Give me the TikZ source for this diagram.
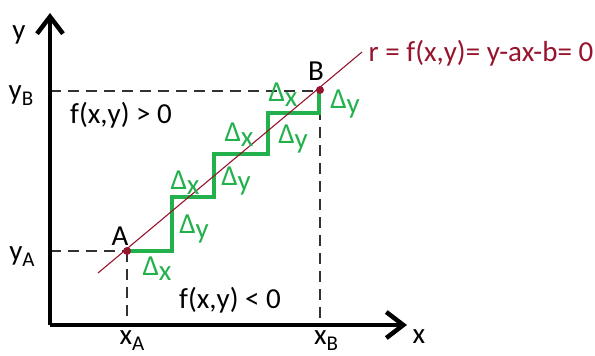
\documentclass[tikz,border=0pt]{standalone}
\usepackage{fontspec}
\setmainfont{Carlito}
\usetikzlibrary{arrows.meta}
\definecolor{stepgreen}{RGB}{34,177,76}
\definecolor{linered}{RGB}{150,20,45}
\definecolor{dashgray}{RGB}{50,50,50}
\tikzset{
  axis/.style={line width=4.5pt, -{Straight Barb[length=17pt,width=26pt,line width=4.5pt]}},
  guide/.style={dashgray, line width=1.3pt, dash pattern=on 11pt off 7pt},
  stair/.style={stepgreen, line width=4.5pt, line join=miter},
  lbl/.style={inner sep=0pt, font=\fontsize{29}{32}\selectfont},
  dlt/.style={inner sep=0pt, text=stepgreen, font=\fontsize{29}{32}\selectfont},
  pt/.style={circle, fill=linered, inner sep=0pt, minimum size=8pt}
}
\newcommand{\dx}{Δ\raisebox{-5pt}{x}}
\newcommand{\dy}{Δ\raisebox{-5pt}{y}}
\newcommand{\sub}[1]{\raisebox{-6pt}{\fontsize{21}{22}\selectfont #1}}
\begin{document}
\begin{tikzpicture}[x=1pt,y=-1pt]
\useasboundingbox (0,0) rectangle (595,356);
% key coordinates
\coordinate (O) at (50,325);
\coordinate (ytip) at (50,13);
\coordinate (xtip) at (407,325);
\coordinate (yAax) at (50,251);
\coordinate (yBax) at (50,91);
\coordinate (xAax) at (127,325);
\coordinate (xBax) at (320,325);
\coordinate (r0) at (98,273);
\coordinate (r1) at (362,52);
% dashed guides
\draw[guide] (yBax) -- (320,91);
\draw[guide] (yAax) -- (127,251);
\draw[guide] (127,251) -- (xAax);
\draw[guide] (320,91) -- (xBax);
% axes
\draw[axis] (O) -- (ytip);
\draw[axis] (O) -- (xtip);
% staircase
\draw[stair] (127,251) -- (172,251) -- (172,197) -- (214,197) -- (214,154) -- (268,154) -- (268,113) -- (319,113) -- (319,90);
% line r
\draw[linered, line width=1.1pt] (r0) -- (r1);
\node[pt] (A) at (127,251) {};
\node[pt] (B) at (320,90) {};
% labels
\node[lbl] (ly) at (19,35) {y};
\node[lbl] (lyB) at (21,96) {y\sub{B}};
\node[lbl] (lyA) at (22,257) {y\sub{A}};
\node[lbl] (lxA) at (132,341) {x\sub{A}};
\node[lbl] (lxB) at (326,341) {x\sub{B}};
\node[lbl] (lx) at (419,337) {x};
\node[lbl] (lA) at (120,236) {A};
\node[lbl] (lB) at (316,71) {B};
\node[lbl] (fpos) at (121,115) {f(x,y) > 0};
\node[lbl] (fneg) at (230,300) {f(x,y) < 0};
\node[lbl, text=linered] (req) at (481,53) {r = f(x,y)= y-ax-b= 0};
% deltas
\node[dlt] (d1) at (157,269) {\dx};
\node[dlt] (d2) at (194,229) {\dy};
\node[dlt] (d3) at (185,183) {\dx};
\node[dlt] (d4) at (236,181) {\dy};
\node[dlt] (d5) at (239,135) {\dx};
\node[dlt] (d6) at (293,139) {\dy};
\node[dlt] (d7) at (283,95) {\dx};
\node[dlt] (d8) at (345,104) {\dy};
\end{tikzpicture}
\end{document}
